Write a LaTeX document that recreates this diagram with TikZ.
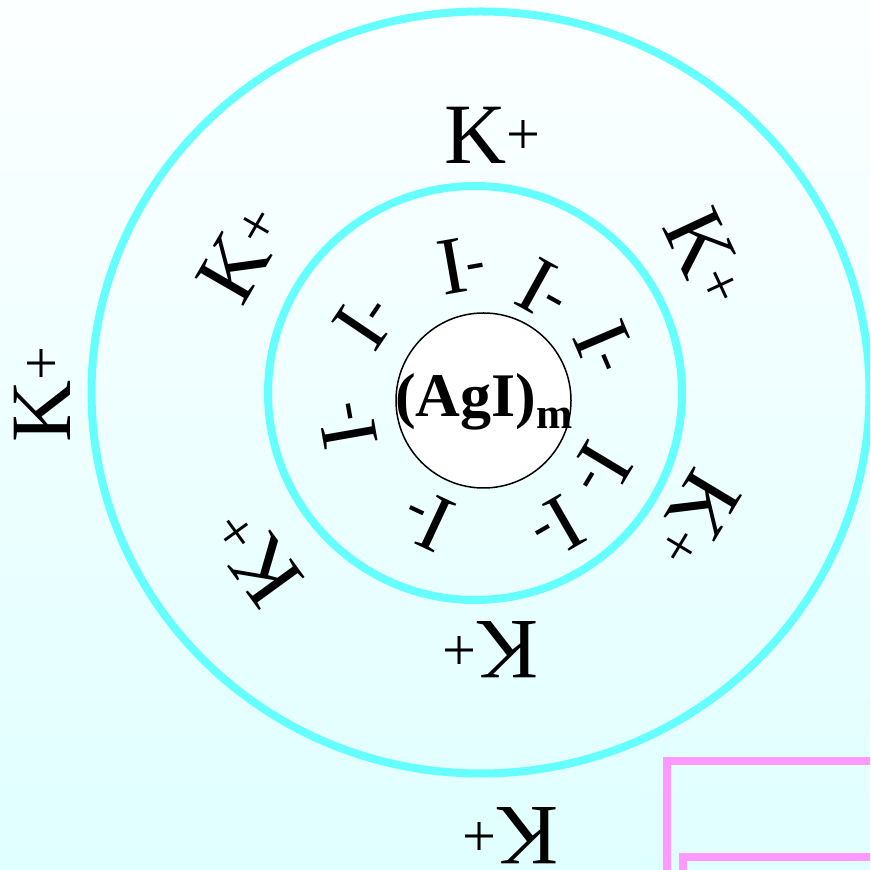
\documentclass[tikz,border=0pt]{standalone}
\usepackage{fontspec}
\setmainfont{Liberation Serif}
\usepackage{tikz}
\usetikzlibrary{positioning}

\definecolor{ringcyan}{RGB}{102,255,255}
\definecolor{boxpink}{RGB}{255,153,255}
\definecolor{bgtop}{RGB}{252,255,255}
\definecolor{bgbottom}{RGB}{224,255,255}

\begin{document}
\begin{tikzpicture}[x=1pt, y=1pt,
    kion/.style={inner sep=0pt, font=\fontsize{86}{86}\selectfont},
    iion/.style={inner sep=0pt, font=\fontsize{82}{82}\selectfont},
    ring/.style={ringcyan, line width=8pt}]
\useasboundingbox (0,0) rectangle (870,870);
\clip (0,0) rectangle (870,870);
\shade[top color=bgtop, bottom color=bgbottom] (0,0) rectangle (870,870);

% rings
\draw[ring] (480.5,477.5) ellipse [x radius=389, y radius=381];
\draw[ring] (475,477) circle (207);
\node[circle, draw, line width=1.5pt, fill=white, minimum size=175pt, inner sep=0pt] (core) at (483.5,469.5) {};
\node[inner sep=0pt, font=\fontsize{62}{62}\selectfont\bfseries] (agi) at (484,468) {(AgI)\textsubscript{m}};

% pink frames, bottom right
\draw[boxpink, line width=8pt] (667,-60) -- (667,109) -- (960,109);
\draw[boxpink, line width=8pt] (683,-60) -- (683,13) -- (960,13);

% counter ions
\node[kion] (k1) at (493,735) {K\textsuperscript{+}};
\node[kion, rotate=60] (k2) at (242,617) {K\textsuperscript{+}};
\node[kion, rotate=-65] (k3) at (707,612) {K\textsuperscript{+}};
\node[kion, rotate=-121] (k4) at (695,350) {K\textsuperscript{+}};
\node[kion, rotate=126] (k5) at (255,313) {K\textsuperscript{+}};
\node[kion, rotate=180] (k6) at (490,220) {K\textsuperscript{+}};
\node[kion, rotate=90] (k7) at (42,476) {K\textsuperscript{+}};
\node[kion, rotate=180] (k8) at (510,34) {K\textsuperscript{+}};

% potential determining ions
\node[iion, rotate=10] (i1) at (462,605) {I\textsuperscript{-}};
\node[iion, rotate=-29] (i2) at (545,580) {I\textsuperscript{-}};
\node[iion, rotate=56] (i3) at (365,550) {I\textsuperscript{-}};
\node[iion, rotate=-67] (i4) at (605,522) {I\textsuperscript{-}};
\node[iion, rotate=100] (i5) at (348,445) {I\textsuperscript{-}};
\node[iion, rotate=-121] (i6) at (600,400) {I\textsuperscript{-}};
\node[iion, rotate=155] (i7) at (427,350) {I\textsuperscript{-}};
\node[iion, rotate=210] (i8) at (557,343) {I\textsuperscript{-}};
\end{tikzpicture}
\end{document}
